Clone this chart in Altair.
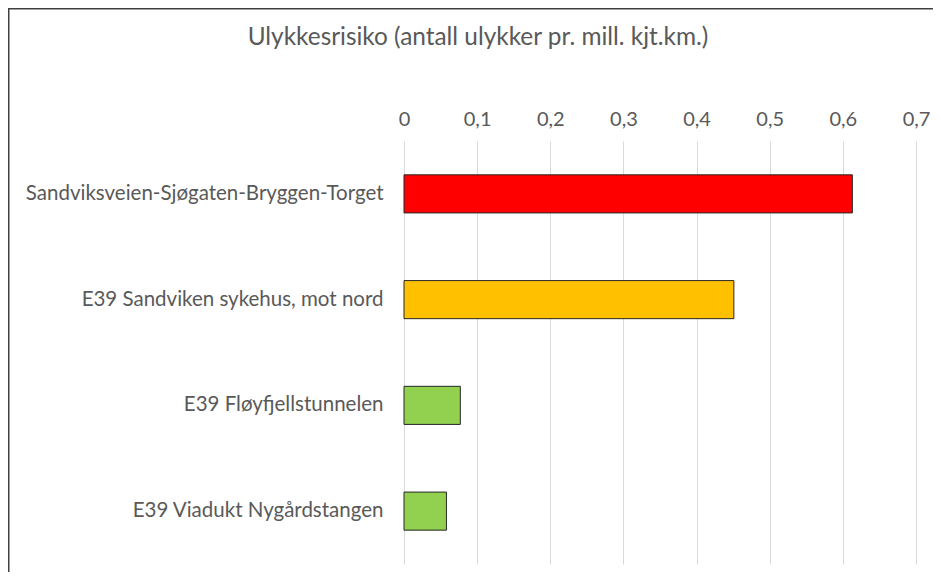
import altair as alt
import pandas as pd

categories = [
    "Sandviksveien-Sjøgaten-Bryggen-Torget",
    "E39 Sandviken sykehus, mot nord",
    "E39 Fløyfjellstunnelen",
    "E39 Viadukt Nygårdstangen",
]
values = [0.613, 0.451, 0.077, 0.058]
colors = ["#FF0000", "#FFC000", "#92D050", "#92D050"]
title_text = "Ulykkesrisiko (antall ulykker pr. mill. kjt.km.)"

df = pd.DataFrame({"cat": categories, "val": values, "col": colors})

FONT = "Lato"
TXT = "#595959"

bars = alt.Chart(df).mark_bar(stroke="#262626", strokeWidth=1).encode(
    x=alt.X(
        "val:Q",
        scale=alt.Scale(domain=[0, 0.7], nice=False, zero=True),
        axis=alt.Axis(
            orient="top",
            values=[0, 0.1, 0.2, 0.3, 0.4, 0.5, 0.6, 0.7],
            labelExpr="replace(format(datum.value, '.1~f'), '.', ',')",
            domain=False,
            ticks=False,
            grid=True,
            gridColor="#D9D9D9",
            gridWidth=1,
            labelFlush=False,
            labelOverlap=False,
            labelPadding=16,
            labelBaseline="alphabetic",
            labelFont=FONT,
            labelFontSize=20,
            labelColor=TXT,
            title=None,
        ),
    ),
    y=alt.Y(
        "cat:N",
        sort=categories,
        scale=alt.Scale(paddingInner=0.64, paddingOuter=0.32),
        axis=alt.Axis(
            domain=False,
            ticks=False,
            grid=False,
            labelPadding=21,
            labelFont=FONT,
            labelFontSize=20.5,
            labelColor=TXT,
            labelLimit=0,
            title=None,
        ),
    ),
    color=alt.Color("col:N", scale=None, legend=None),
)

frame = alt.Chart(pd.DataFrame({"a": [0]})).mark_rect(
    filled=False, stroke="#404040", strokeWidth=1.5
).encode(
    x=alt.value(-395.25),
    x2=alt.value(700),
    y=alt.value(-132.25),
    y2=alt.value(600),
)

chart = alt.layer(frame, bars).properties(
    width=512,
    height=423,
    title=alt.TitleParams(
        title_text,
        anchor="middle",
        frame="group",
        dx=-182,
        font=FONT,
        fontSize=24.4,
        fontWeight="normal",
        color=TXT,
        baseline="alphabetic",
        offset=-61,
    ),
    autosize=alt.AutoSizeParams(type="none"),
    padding={"left": 396, "top": 133, "right": 17, "bottom": 8},
).configure(background="white").configure_view(stroke=None)

chart.save("out.html", embed_options={"renderer": "svg", "actions": False})
